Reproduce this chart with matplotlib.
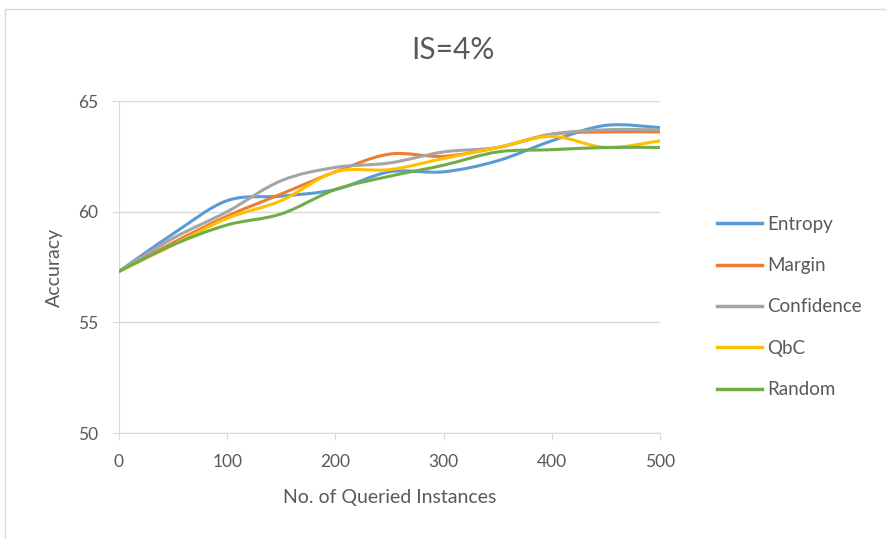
import matplotlib.pyplot as plt
import numpy as np
from matplotlib.path import Path
from matplotlib.patches import PathPatch, Rectangle
from matplotlib.lines import Line2D

plt.rcParams['font.family'] = ['Lato', 'DejaVu Sans']

queried = [0, 50, 100, 150, 200, 250, 300, 350, 400, 450, 500]
entropy = [57.3, 59.0, 60.5, 60.7, 61.0, 61.8, 61.8, 62.3, 63.2, 63.9, 63.8]
margin = [57.3, 58.6, 59.8, 60.8, 61.8, 62.6, 62.5, 62.9, 63.5, 63.6, 63.6]
confidence = [57.3, 58.8, 60.0, 61.4, 62.0, 62.2, 62.7, 62.9, 63.5, 63.7, 63.7]
qbc = [57.3, 58.5, 59.7, 60.5, 61.8, 61.9, 62.4, 62.9, 63.4, 62.9, 63.2]
random_ = [57.3, 58.5, 59.4, 59.9, 61.0, 61.6, 62.1, 62.7, 62.8, 62.9, 62.9]

names = ["Entropy", "Margin", "Confidence", "QbC", "Random"]
series = [entropy, margin, confidence, qbc, random_]
colors = ["#5B9BD5", "#ED7D31", "#A5A5A5", "#FFC000", "#70AD47"]
text_col = "#595959"


def smooth_path(x, y):
    # excel style smoothed line: cubic bezier segments through each point
    pts = np.column_stack([x, y]).astype(float)
    ext = np.vstack([pts[0], pts, pts[-1]])
    verts = [pts[0]]
    codes = [Path.MOVETO]
    for i in range(len(pts) - 1):
        p0, p1, p2, p3 = ext[i], ext[i + 1], ext[i + 2], ext[i + 3]
        verts += [p1 + (p2 - p0) / 6, p2 - (p3 - p1) / 6, p2]
        codes += [Path.CURVE4] * 3
    return Path(verts, codes)


fig = plt.figure(figsize=(8.86, 5.39), dpi=100)
ax = fig.add_axes([119 / 886, 1 - 433 / 539, 541 / 886, 332 / 539])

for name, vals, c in zip(names, series, colors):
    ax.add_patch(PathPatch(smooth_path(queried, vals), facecolor="none",
                           edgecolor=c, lw=2.2, capstyle="round", zorder=3))

ax.set_xlim(0, 500)
ax.set_ylim(50, 65)
ax.set_xticks(range(0, 501, 100))
ax.set_yticks([50, 55, 60, 65])
ax.grid(axis="y", color="#D9D9D9", lw=1)
ax.set_axisbelow(True)
for s in ["top", "right"]:
    ax.spines[s].set_visible(False)
ax.spines["left"].set_color("#D9D9D9")
ax.spines["bottom"].set_color("#D9D9D9")
ax.tick_params(colors="#D9D9D9", labelcolor=text_col, labelsize=12.5, length=5)
ax.tick_params(axis="x", pad=10)
ax.tick_params(axis="y", pad=10)
ax.set_xlabel("No. of Queried Instances", fontsize=14, color=text_col, labelpad=14)
ax.set_ylabel("Accuracy", fontsize=14, color=text_col, labelpad=11)
fig.text(453 / 886, 1 - 50 / 539, "IS=4%", fontsize=21.5, color=text_col,
         ha="center", va="center")

handles = [Line2D([], [], color=c, lw=2.5) for c in colors]
fig.legend(handles, names, loc="center left", bbox_to_anchor=(700 / 886, 1 - 307 / 539),
           frameon=False, fontsize=13.5, labelcolor=text_col, handlelength=2.4,
           handletextpad=0.3, labelspacing=1.3)

fig.patches.append(Rectangle((5 / 886, -0.05), 1.1, 1.05 - 9 / 539,
                             transform=fig.transFigure, facecolor="none",
                             edgecolor="#D9D9D9", lw=1))

fig.savefig("out.png", dpi=100)
